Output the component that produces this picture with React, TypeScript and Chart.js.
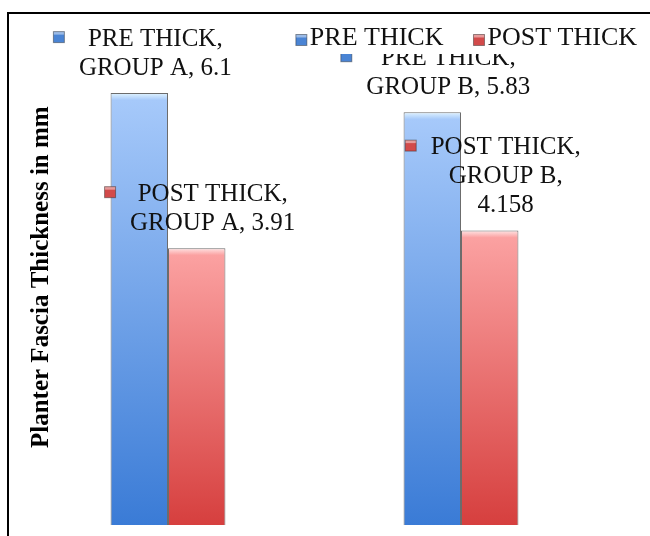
import React, { useEffect, useRef } from 'react';
import { Chart, registerables } from 'chart.js';
import type { Plugin, ScriptableContext } from 'chart.js';

Chart.register(...registerables);

const categories = ['GROUP A', 'GROUP B'];
const seriesNames = ['PRE THICK', 'POST THICK'];
const preThick = [6.1, 5.83];
const postThick = [3.91, 4.158];
const yTitle = 'Planter Fascia Thickness in mm';

const SERIF = "'Liberation Serif', 'Times New Roman', serif";
const TEXT = '#111111';

// excel style fills: light bevel on top, darker towards the base
const palette = [
  { bevel: '#e0f3ff', top: '#a6c9fa', bottom: '#3a7bd6', marker: '#4a84d4' },
  { bevel: '#ffe4e4', top: '#fba1a1', bottom: '#d63f3e', marker: '#d24a4a' },
];

function barFill(idx: number) {
  return (ctx: ScriptableContext<'bar'>) => {
    const { chart } = ctx;
    const c = palette[idx];
    const yScale = chart.scales.y;
    if (!chart.chartArea || !yScale || typeof ctx.raw !== 'number') return c.bottom;
    const top = yScale.getPixelForValue(ctx.raw);
    const base = yScale.getPixelForValue(0);
    const g = chart.ctx.createLinearGradient(0, top, 0, base);
    const edge = Math.min(0.1, 7 / Math.max(base - top, 1));
    g.addColorStop(0, c.bevel);
    g.addColorStop(edge, c.top);
    g.addColorStop(1, c.bottom);
    return g;
  };
}

function wrapWords(ctx: CanvasRenderingContext2D, text: string, maxWidth: number) {
  const lines: string[] = [];
  let cur = '';
  text.split(' ').forEach(w => {
    const test = cur ? cur + ' ' + w : w;
    if (cur && ctx.measureText(test).width > maxWidth) {
      lines.push(cur);
      cur = w;
    } else {
      cur = test;
    }
  });
  if (cur) lines.push(cur);
  return lines;
}

function drawMarker(ctx: CanvasRenderingContext2D, x: number, y: number, color: string) {
  ctx.fillStyle = color;
  ctx.fillRect(x - 5.5, y - 5.5, 11, 11);
  ctx.fillStyle = 'rgba(255,255,255,0.45)';
  ctx.fillRect(x - 5.5, y - 5.5, 11, 3);
  ctx.strokeStyle = 'rgba(40,40,40,0.45)';
  ctx.lineWidth = 1;
  ctx.strokeRect(x - 5.5, y - 5.5, 11, 11);
}

const excelLabels: Plugin<'bar'> = {
  id: 'excelLabels',
  afterDatasetsDraw(chart) {
    const { ctx } = chart;
    ctx.save();
    ctx.font = `25px ${SERIF}`;
    ctx.textAlign = 'center';
    ctx.textBaseline = 'middle';
    chart.data.datasets.forEach((ds, di) => {
      const meta = chart.getDatasetMeta(di);
      meta.data.forEach((bar, i) => {
        const text = `${ds.label}, ${chart.data.labels?.[i]}, ${ds.data[i]}`;
        const lines = wrapWords(ctx, text, 172);
        const cx = bar.x + 16;
        const firstY = bar.y - 25 - (lines.length - 1) * 29;
        let left = Infinity;
        ctx.fillStyle = TEXT;
        lines.forEach((ln, k) => {
          left = Math.min(left, cx - ctx.measureText(ln).width / 2);
          ctx.fillText(ln, cx, firstY + k * 29);
        });
        drawMarker(ctx, left - 20, firstY - 2, palette[di].marker);
      });
    });
    ctx.restore();
  },
  afterDraw(chart) {
    // legend sits on top of the plot, right aligned, with a white box
    const { ctx } = chart;
    ctx.save();
    ctx.font = `26px ${SERIF}`;
    ctx.textBaseline = 'middle';
    ctx.textAlign = 'left';
    const items = chart.data.datasets.map((ds, i) => ({ text: String(ds.label), color: palette[i].marker }));
    const placed: { text: string; color: string; tx: number; mx: number }[] = [];
    let x = 637;
    for (let i = items.length - 1; i >= 0; i--) {
      const w = ctx.measureText(items[i].text).width;
      const tx = x - w;
      const mx = tx - 3 - 5.5;
      placed.push({ ...items[i], tx, mx });
      x = mx - 5.5 - 30;
    }
    const boxLeft = x + 30 - 8;
    ctx.fillStyle = '#ffffff';
    ctx.fillRect(boxLeft, 22, 646 - boxLeft, 32);
    placed.forEach(p => {
      drawMarker(ctx, p.mx, 40, p.color);
      ctx.fillStyle = TEXT;
      ctx.fillText(p.text, p.tx, 38);
    });
    ctx.restore();
  },
};

const ThicknessChart: React.FC = () => {
  const canvasRef = useRef<HTMLCanvasElement>(null);

  useEffect(() => {
    if (!canvasRef.current) return;
    const chart = new Chart(canvasRef.current, {
      type: 'bar',
      data: {
        labels: categories,
        datasets: [
          {
            label: seriesNames[0],
            data: preThick,
            backgroundColor: barFill(0),
            borderColor: 'rgba(45,45,45,0.7)',
            borderWidth: 1,
            barPercentage: 1,
            categoryPercentage: 0.392,
          },
          {
            label: seriesNames[1],
            data: postThick,
            backgroundColor: barFill(1),
            borderColor: 'rgba(45,45,45,0.7)',
            borderWidth: 1,
            barPercentage: 1,
            categoryPercentage: 0.392,
          },
        ],
      },
      options: {
        responsive: false,
        animation: false,
        layout: { padding: { top: 29.4, bottom: 11, left: 0, right: 42.5 } },
        plugins: {
          legend: { display: false },
          tooltip: { enabled: false },
        },
        scales: {
          x: { display: false },
          y: {
            min: 0,
            max: 7,
            ticks: { display: false },
            grid: { display: false },
            border: { display: false },
            title: {
              display: true,
              text: yTitle,
              color: '#000',
              font: { family: SERIF, size: 25, weight: 'bold' },
              padding: { top: 27, bottom: 0 },
            },
            afterFit: scale => {
              scale.width = 21.5;
            },
          },
        },
      },
      plugins: [excelLabels],
    });
    return () => chart.destroy();
  }, []);

  return (
    <div style={{ position: 'fixed', left: 0, top: 0, width: 650, height: 536, background: '#fff', overflow: 'hidden' }}>
      <div
        style={{
          position: 'absolute',
          left: 7,
          top: 12,
          width: 720,
          height: 620,
          border: '2px solid #000',
        }}
      />
      <canvas ref={canvasRef} width={650} height={536} style={{ position: 'absolute', left: 0, top: 0 }} />
    </div>
  );
};

export default function App() {
  return <ThicknessChart />;
}
